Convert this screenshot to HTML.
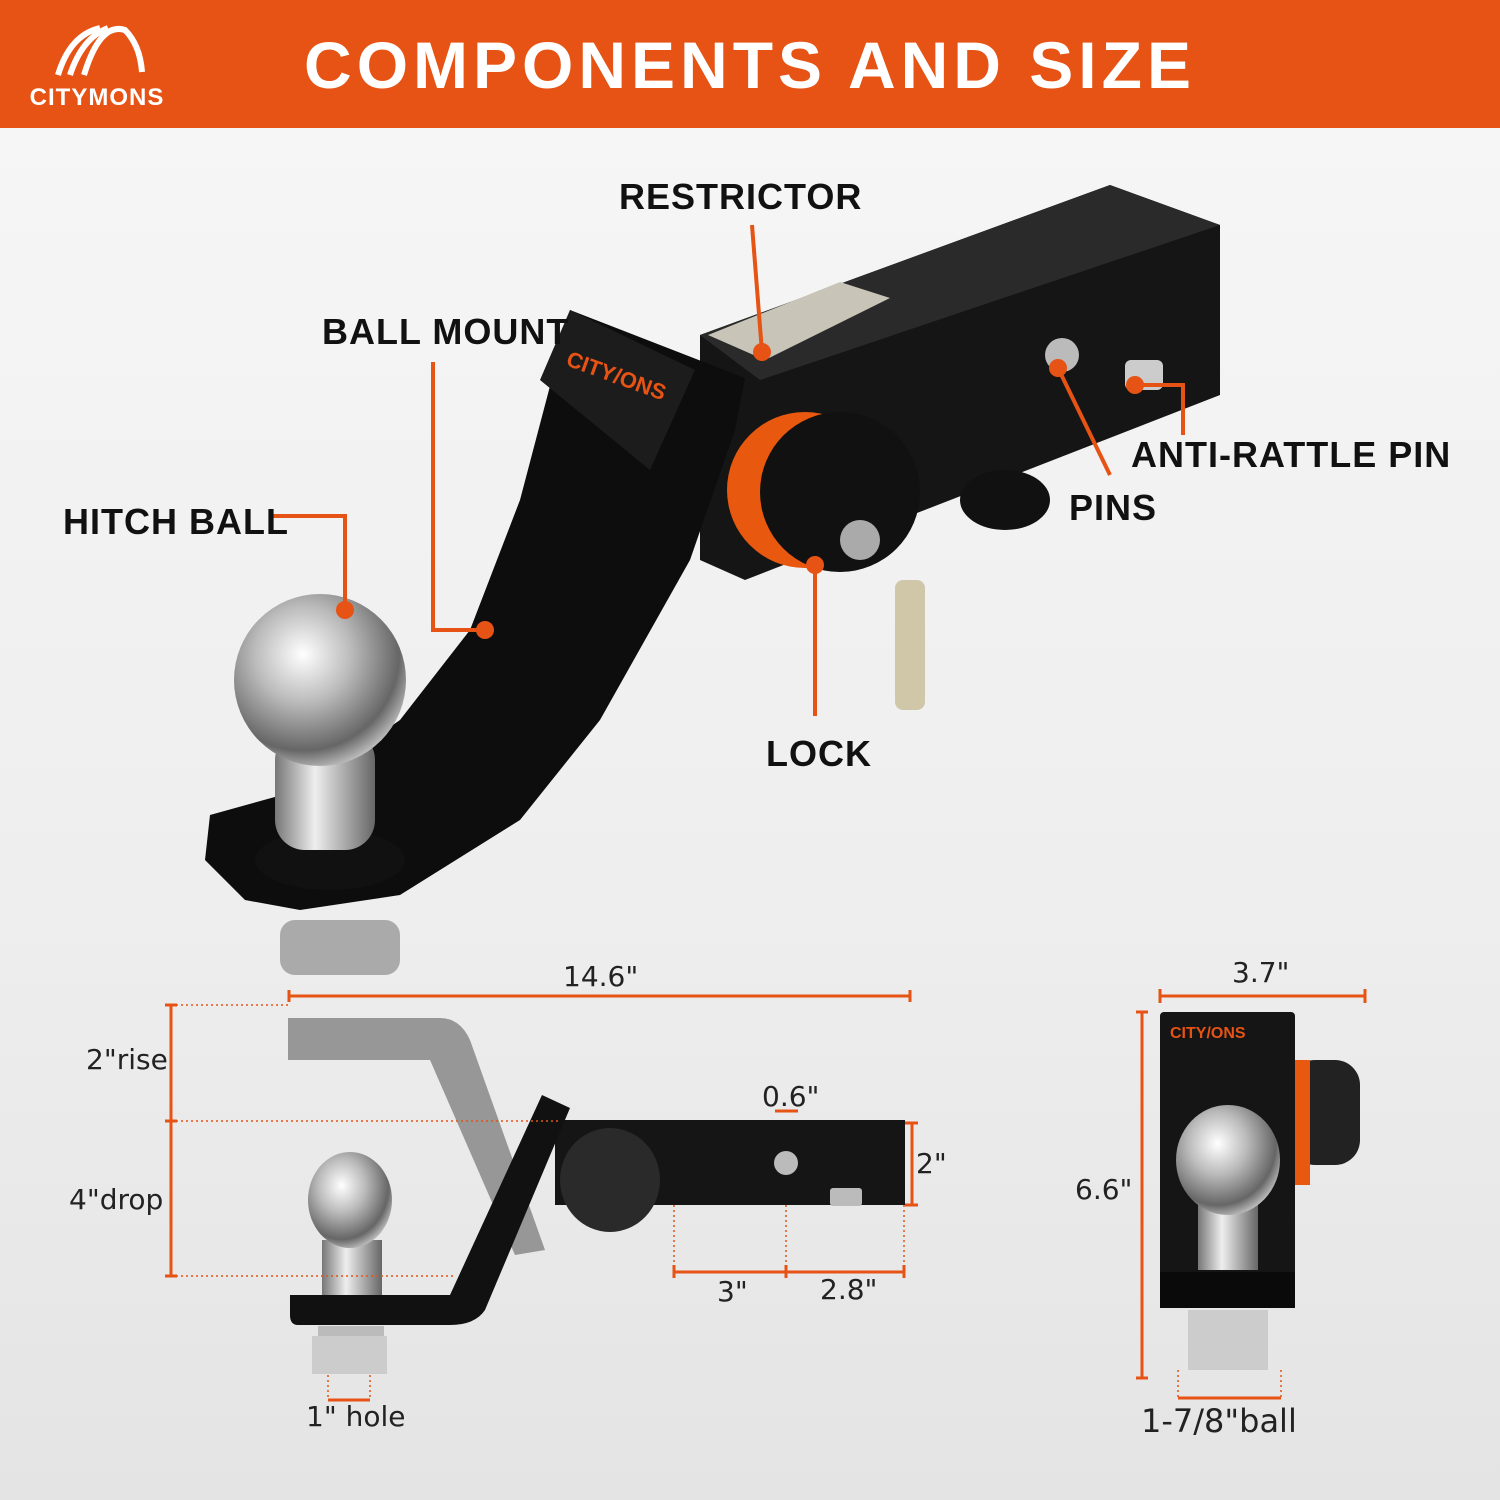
<!DOCTYPE html>
<html><head><meta charset="utf-8"><style>
html,body{margin:0;padding:0}
body{width:1500px;height:1500px;overflow:hidden;background:linear-gradient(180deg,#f7f7f7 0%,#eeeeee 60%,#e4e4e4 100%);font-family:"Liberation Sans",sans-serif;position:relative}
.hdr{position:absolute;left:0;top:0;width:1500px;height:128px;background:#E65314}
.t{position:absolute;font-family:"Liberation Sans",sans-serif;font-weight:bold;color:#111;white-space:nowrap;letter-spacing:1px}
.d{position:absolute;font-family:"DejaVu Sans","Liberation Sans",sans-serif;color:#222;white-space:nowrap;font-size:28px}
</style></head><body>
<div class="hdr"></div>
<svg width="1500" height="1500" style="position:absolute;left:0;top:0">
<defs>
<radialGradient id="ball" cx="0.4" cy="0.35" r="0.7"><stop offset="0" stop-color="#fff"/><stop offset="0.4" stop-color="#bbb"/><stop offset="0.8" stop-color="#666"/><stop offset="1" stop-color="#ccc"/></radialGradient>
<linearGradient id="neck" x1="0" x2="1"><stop offset="0" stop-color="#777"/><stop offset="0.4" stop-color="#eee"/><stop offset="1" stop-color="#666"/></linearGradient>
</defs>
<g fill="none" stroke="#fff" stroke-width="6">
<path d="M58 75 Q70 35 100 28"/><path d="M70 75 Q82 38 108 28"/><path d="M84 75 Q100 22 125 30 Q140 45 142 72"/>
</g>
<text x="97" y="105" fill="#fff" font-family="Liberation Sans" font-weight="bold" font-size="24" text-anchor="middle" letter-spacing="1">CITYMONS</text>
<text x="750" y="88" fill="#fff" font-family="Liberation Sans" font-weight="bold" font-size="66" text-anchor="middle" letter-spacing="5">COMPONENTS AND SIZE</text>

<polygon points="700,335 1110,185 1220,225 1220,395 745,580 700,560" fill="#151515"/>
<polygon points="700,335 1110,185 1220,225 760,380" fill="#2a2a2a"/>
<polygon points="708,335 840,282 890,298 765,360" fill="#c8c4b8"/>
<circle cx="1062" cy="355" r="17" fill="#bbb"/>
<rect x="1125" y="360" width="38" height="30" rx="6" fill="#ccc"/>
<rect x="280" y="920" width="120" height="55" rx="15" fill="#aaa"/>
<polygon points="570,310 745,378 735,430 690,560 600,720 520,820 400,895 300,910 245,900 205,860 210,815 300,790 400,720 470,630 520,500" fill="#0d0d0d"/>
<polygon points="570,310 695,370 650,470 540,380" fill="#1c1c1c"/>
<text x="565" y="365" fill="#E65314" font-size="22" font-weight="bold" transform="rotate(20 565 365)">CITY/ONS</text>
<circle cx="805" cy="490" r="78" fill="#e8580f"/>
<circle cx="840" cy="492" r="80" fill="#111"/>
<circle cx="860" cy="540" r="20" fill="#aaa"/>
<ellipse cx="1005" cy="500" rx="45" ry="30" fill="#111"/>
<rect x="895" y="580" width="30" height="130" rx="8" fill="#cfc7a8"/>
<ellipse cx="330" cy="860" rx="75" ry="30" fill="#111"/>
<rect x="275" y="730" width="100" height="120" rx="30" fill="url(#neck)"/>
<circle cx="320" cy="680" r="86" fill="url(#ball)"/>

<g stroke="#E65314" stroke-width="4" fill="none">
<polyline points="272,516 345,516 345,610"/>
<polyline points="433,362 433,630 485,630"/>
<line x1="752" y1="225" x2="762" y2="352"/>
<line x1="815" y1="565" x2="815" y2="716"/>
<line x1="1058" y1="368" x2="1110" y2="475"/>
<polyline points="1135,385 1183,385 1183,435"/>
</g>
<g fill="#E65314"><circle cx="345" cy="610" r="9"/><circle cx="485" cy="630" r="9"/><circle cx="762" cy="352" r="9"/><circle cx="815" cy="565" r="9"/><circle cx="1058" cy="368" r="9"/><circle cx="1135" cy="385" r="9"/></g>

<path d="M288 1018 L288 1060 L430 1060 L515 1255 L545 1250 L470 1040 Q460 1018 440 1018 Z" fill="#888" opacity="0.85"/>
<rect x="555" y="1120" width="350" height="85" fill="#151515"/>
<circle cx="786" cy="1163" r="12" fill="#bbb"/>
<rect x="830" y="1188" width="32" height="18" rx="3" fill="#bbb"/>
<ellipse cx="610" cy="1180" rx="50" ry="52" fill="#2a2a2a"/>
<path d="M542 1095 L570 1108 L485 1310 Q475 1325 450 1325 L298 1325 Q290 1325 290 1315 L290 1295 L450 1295 Z" fill="#111"/>
<rect x="322" y="1240" width="60" height="55" fill="url(#neck)"/>
<ellipse cx="350" cy="1200" rx="42" ry="48" fill="url(#ball)"/>
<rect x="318" y="1326" width="66" height="30" fill="#bbb"/>
<rect x="312" y="1336" width="75" height="38" fill="#ccc"/>

<g stroke="#E65314" stroke-width="3" fill="none">
<line x1="289" y1="996" x2="910" y2="996"/><line x1="289" y1="990" x2="289" y2="1002"/><line x1="910" y1="990" x2="910" y2="1002"/>
<line x1="171" y1="1005" x2="171" y2="1276"/><line x1="165" y1="1005" x2="177" y2="1005"/><line x1="165" y1="1121" x2="177" y2="1121"/><line x1="165" y1="1276" x2="177" y2="1276"/>
<line x1="912" y1="1123" x2="912" y2="1205"/><line x1="905" y1="1123" x2="918" y2="1123"/><line x1="905" y1="1205" x2="918" y2="1205"/>
<line x1="674" y1="1272" x2="904" y2="1272"/><line x1="674" y1="1265" x2="674" y2="1278"/><line x1="786" y1="1265" x2="786" y2="1278"/><line x1="904" y1="1265" x2="904" y2="1278"/>
<line x1="775" y1="1111" x2="798" y2="1111"/>
<line x1="328" y1="1400" x2="370" y2="1400"/>
<line x1="1160" y1="996" x2="1365" y2="996"/><line x1="1160" y1="989" x2="1160" y2="1003"/><line x1="1365" y1="989" x2="1365" y2="1003"/>
<line x1="1142" y1="1012" x2="1142" y2="1378"/><line x1="1136" y1="1012" x2="1148" y2="1012"/><line x1="1136" y1="1378" x2="1148" y2="1378"/>
<line x1="1178" y1="1398" x2="1281" y2="1398"/>
</g>
<g stroke="#E65314" stroke-width="1.5" stroke-dasharray="2,3" fill="none">
<line x1="171" y1="1005" x2="288" y2="1005"/><line x1="171" y1="1121" x2="560" y2="1121"/><line x1="171" y1="1276" x2="455" y2="1276"/>
<line x1="674" y1="1205" x2="674" y2="1272"/><line x1="786" y1="1205" x2="786" y2="1272"/><line x1="904" y1="1205" x2="904" y2="1272"/>
<line x1="328" y1="1375" x2="328" y2="1400"/><line x1="370" y1="1375" x2="370" y2="1400"/>
<line x1="1178" y1="1370" x2="1178" y2="1398"/><line x1="1281" y1="1370" x2="1281" y2="1398"/>
</g>

<rect x="1290" y="1060" width="70" height="105" rx="25" fill="#222"/>
<rect x="1290" y="1060" width="20" height="125" fill="#e8580f"/>
<rect x="1160" y="1012" width="135" height="296" rx="4" fill="#151515"/>
<text x="1170" y="1038" fill="#E65314" font-size="16" font-weight="bold">CITY/ONS</text>
<rect x="1160" y="1272" width="135" height="36" fill="#0a0a0a"/>
<rect x="1198" y="1190" width="60" height="80" fill="url(#neck)"/>
<ellipse cx="1228" cy="1160" rx="52" ry="55" fill="url(#ball)"/>
<rect x="1188" y="1310" width="80" height="60" fill="#ccc"/>
</svg>

<div class="t" style="left:619px;top:176px;font-size:36px">RESTRICTOR</div>
<div class="t" style="left:322px;top:311px;font-size:36px">BALL MOUNT</div>
<div class="t" style="left:63px;top:501px;font-size:36px">HITCH BALL</div>
<div class="t" style="left:1131px;top:434px;font-size:36px">ANTI-RATTLE PIN</div>
<div class="t" style="left:1069px;top:487px;font-size:36px">PINS</div>
<div class="t" style="left:766px;top:733px;font-size:36px">LOCK</div>
<div class="d" style="left:563px;top:960px">14.6"</div>
<div class="d" style="left:86px;top:1043px">2"rise</div>
<div class="d" style="left:69px;top:1183px">4"drop</div>
<div class="d" style="left:762px;top:1080px">0.6"</div>
<div class="d" style="left:916px;top:1147px">2"</div>
<div class="d" style="left:717px;top:1275px">3"</div>
<div class="d" style="left:820px;top:1273px">2.8"</div>
<div class="d" style="left:306px;top:1400px">1" hole</div>
<div class="d" style="left:1232px;top:956px">3.7"</div>
<div class="d" style="left:1075px;top:1173px">6.6"</div>
<div class="d" style="left:1141px;top:1402px;font-size:32px">1-7/8"ball</div>
</body></html>
